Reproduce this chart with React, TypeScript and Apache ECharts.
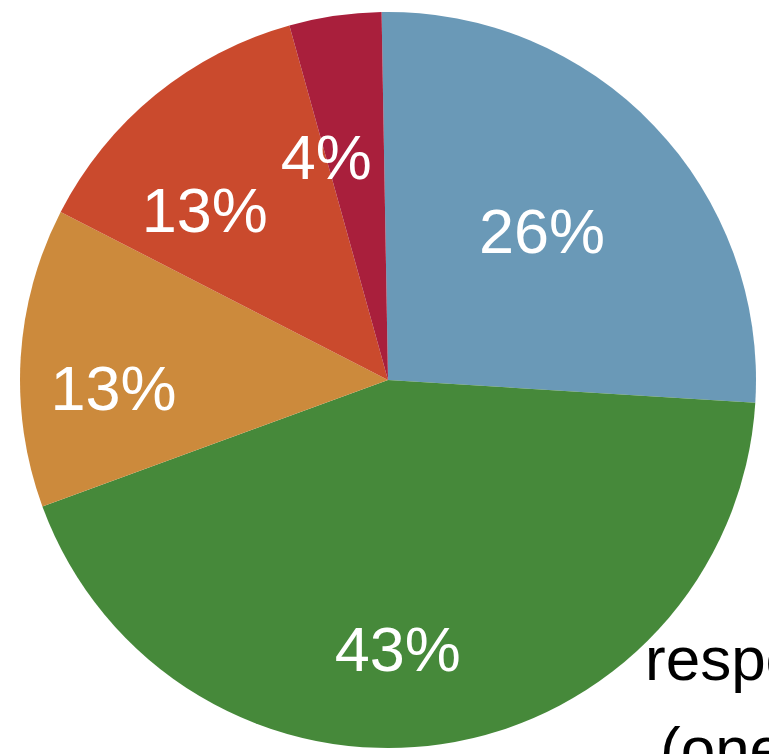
import React, { useEffect, useRef } from "react";
import * as echarts from "echarts";

const categories = ["A", "B", "C", "D", "E"];
const values = [26, 43, 13, 13, 4];
const colors = ["#6a99b7", "#46893a", "#cc8a3c", "#ca4a2d", "#a91f3c"];
const captionLines = ["respondents", "(one answer)"];

export default function App() {
  const ref = useRef<HTMLDivElement>(null);
  useEffect(() => {
    if (!ref.current) return;
    const chart = echarts.init(ref.current, null, { renderer: "svg" });
    const data = categories.map((name, i) => ({
      name,
      value: values[i],
      itemStyle: { color: colors[i] },
    }));
    chart.setOption({
      animation: false,
      backgroundColor: "#ffffff",
      series: [
        {
          type: "pie",
          center: [388, 380],
          radius: [0, 368],
          startAngle: 91,
          clockwise: true,
          silent: true,
          data,
          label: { show: false },
          labelLine: { show: false },
          itemStyle: { borderWidth: 0 },
        },
        {
          type: "pie",
          center: [362, 403],
          radius: [0, 492],
          startAngle: 91,
          clockwise: true,
          silent: true,
          data: data.map((d) => ({ ...d, itemStyle: { color: "rgba(0,0,0,0)" } })),
          itemStyle: { borderWidth: 0 },
          label: {
            show: true,
            position: "inside",
            formatter: "{c}%",
            color: "#ffffff",
            fontSize: 63,
            fontFamily: "Liberation Sans, Arial, sans-serif",
            fontWeight: "normal",
          },
          labelLine: { show: false },
        },
      ],
      graphic: [
        {
          type: "text",
          left: 645,
          top: 627,
          style: {
            text: captionLines[0],
            fill: "#000000",
            fontSize: 62,
            fontFamily: "Liberation Sans, Arial, sans-serif",
          },
        },
        {
          type: "text",
          left: 660,
          top: 717,
          style: {
            text: captionLines[1],
            fill: "#000000",
            fontSize: 62,
            fontFamily: "Liberation Sans, Arial, sans-serif",
          },
        },
      ],
    });
    return () => chart.dispose();
  }, []);
  return (
    <div
      ref={ref}
      style={{ position: "fixed", left: 0, top: 0, width: 769, height: 754 }}
    />
  );
}
